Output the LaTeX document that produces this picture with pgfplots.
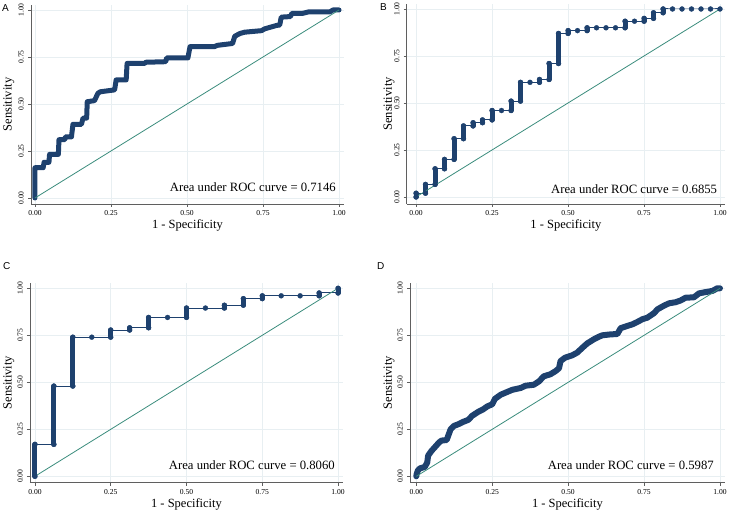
\documentclass[border=0pt]{standalone}
\usepackage{fontspec}
\setmainfont{Liberation Serif}
\newfontfamily\sansf{Liberation Sans}
\usepackage{pgfplots}
\pgfplotsset{compat=1.18}
\definecolor{rocnavy}{RGB}{30,65,110}
\definecolor{refteal}{RGB}{58,140,124}
\definecolor{gridc}{RGB}{232,239,242}
\definecolor{axc}{RGB}{95,95,95}
\tikzset{
  auc/.style={anchor=base east, inner sep=0pt, font=\fontsize{12.7}{14}\selectfont},
  letter/.style={anchor=north west, inner sep=0pt, font=\sansf\fontsize{10}{12}\selectfont},
}
\pgfplotsset{
  rocax/.style={
    scale only axis,
    anchor=south west,
    axis lines=left,
    axis line style={-, axc, line width=0.8pt},
    tick align=outside,
    major tick length=3pt,
    tick style={axc, line width=0.8pt},
    xtick={0,0.25,0.5,0.75,1},
    ytick={0,0.25,0.5,0.75,1},
    /pgf/number format/.cd, fixed, fixed zerofill, precision=2, assume math mode=true,
    /pgfplots/.cd,
    grid=major,
    major grid style={gridc, line width=0.6pt},
    ticklabel style={font=\fontsize{7.6}{8}\selectfont},
    yticklabel style={rotate=90, anchor=south, inner sep=4pt},
    xticklabel style={anchor=north, inner sep=3.5pt},
    xlabel={1 - Specificity},
    ylabel={Sensitivity},
    label style={font=\fontsize{12.5}{14}\selectfont},
    xlabel style={at={(axis description cs:0.5,0)}, anchor=base, yshift=-25pt},
    unbounded coords=jump,
    clip=false,
  },
  thin roc/.style={rocnavy, line width=1pt, mark=*, mark size=2.5pt,
    mark options={solid, fill=rocnavy, draw=rocnavy, line width=0.3pt}},
  bar roc/.style={rocnavy, line width=5pt, line cap=round},
  diag/.style={refteal, line width=0.8pt},
}
\begin{document}
\begin{tikzpicture}
\path[use as bounding box] (0,0) rectangle (729pt,513pt);

% ---------------- Panel A ----------------
\begin{axis}[rocax, at={(31pt,309pt)}, width=313pt, height=199pt,
  xmin=-0.013, xmax=1.0164, ymin=-0.0319, ymax=1.0266,
  ylabel style={at={(axis description cs:-0.0712,0.5)}, anchor=center}]
\addplot[rocnavy, line width=5pt, line join=round, line cap=round] coordinates {
(0,0) (0,0.161) (0.027,0.161) (0.03,0.19) (0.046,0.19) (0.048,0.232) (0.077,0.232)
(0.079,0.31) (0.098,0.31) (0.1,0.325) (0.12,0.325) (0.125,0.392) (0.153,0.392)
(0.158,0.425) (0.17,0.425) (0.172,0.512) (0.196,0.518) (0.207,0.557) (0.215,0.565)
(0.262,0.575) (0.267,0.628) (0.3,0.628) (0.303,0.716) (0.36,0.716) (0.365,0.722)
(0.43,0.725) (0.433,0.745) (0.503,0.745) (0.51,0.805) (0.59,0.805) (0.6,0.812)
(0.65,0.822) (0.657,0.86) (0.674,0.875) (0.69,0.882) (0.745,0.89) (0.756,0.90)
(0.795,0.918) (0.805,0.92) (0.81,0.962) (0.84,0.965) (0.845,0.982) (0.88,0.982)
(0.9,0.99) (0.97,0.99) (0.98,1) (1,1)};
\addplot[diag] coordinates {(0,0) (1,1)};
\node[auc] at (axis cs:0.99,0.032) {Area under ROC curve = 0.7146};
\end{axis}

% ---------------- Panel B ----------------
\begin{axis}[rocax, at={(406.7pt,309pt)}, width=318.3pt, height=200pt,
  xmin=-0.0306, xmax=1.0164, ymin=-0.0372, ymax=1.0266,
  ylabel style={at={(axis description cs:-0.0556,0.5)}, anchor=center}]
\addplot[thin roc] coordinates {
(0,0)(0,0.02)(0.03125,0.02)(0.03125,0.067)(0.0625,0.067)(0.0625,0.15)(0.09375,0.15)
(0.09375,0.20)(0.125,0.20)(0.125,0.31)(0.15625,0.31)(0.15625,0.378)(0.1875,0.378)
(0.1875,0.395)(0.21875,0.395)(0.21875,0.41)(0.25,0.41)(0.25,0.46)(0.28125,0.46)
(0.3125,0.46)(0.3125,0.51)(0.34375,0.51)(0.34375,0.61)(0.375,0.61)(0.40625,0.61)
(0.40625,0.625)(0.4375,0.625)(0.4375,0.71)(0.46875,0.71)(0.46875,0.87)(0.5,0.87)
(0.5,0.885)(0.53125,0.885)(0.5625,0.885)(0.5625,0.90)(0.59375,0.90)(0.625,0.90)
(0.65625,0.90)(0.6875,0.90)(0.6875,0.935)(0.71875,0.935)(0.75,0.935)(0.75,0.95)
(0.78125,0.95)(0.78125,0.98)(0.8125,0.98)(0.8125,1)(0.84375,1)(0.875,1)(0.90625,1)
(0.9375,1)(0.96875,1)(1,1)};
\addplot[bar roc] coordinates {
(0,0)(0,0.02)(0,nan)
(0.03125,0.02)(0.03125,0.067)(0.03125,nan)
(0.0625,0.067)(0.0625,0.15)(0.0625,nan)
(0.09375,0.15)(0.09375,0.2)(0.09375,nan)
(0.125,0.2)(0.125,0.31)(0.125,nan)
(0.15625,0.31)(0.15625,0.378)(0.15625,nan)
(0.1875,0.378)(0.1875,0.395)(0.1875,nan)
(0.21875,0.395)(0.21875,0.41)(0.21875,nan)
(0.25,0.41)(0.25,0.46)(0.25,nan)
(0.3125,0.46)(0.3125,0.51)(0.3125,nan)
(0.34375,0.51)(0.34375,0.61)(0.34375,nan)
(0.40625,0.61)(0.40625,0.625)(0.40625,nan)
(0.4375,0.625)(0.4375,0.71)(0.4375,nan)
(0.46875,0.71)(0.46875,0.87)(0.46875,nan)
(0.5,0.87)(0.5,0.885)(0.5,nan)
(0.5625,0.885)(0.5625,0.9)(0.5625,nan)
(0.6875,0.9)(0.6875,0.935)(0.6875,nan)
(0.75,0.935)(0.75,0.95)(0.75,nan)
(0.78125,0.95)(0.78125,0.98)(0.78125,nan)
(0.8125,0.98)(0.8125,1)};
\addplot[diag] coordinates {(0,0) (1,1)};
\node[auc] at (axis cs:0.991,0.02) {Area under ROC curve = 0.6855};
\end{axis}

% ---------------- Panel C ----------------
\begin{axis}[rocax, at={(30pt,30.3pt)}, width=313pt, height=200pt,
  xmin=-0.0165, xmax=1.0165, ymin=-0.034, ymax=1.0298,
  ylabel style={at={(axis description cs:-0.068,0.5)}, anchor=center}]
\addplot[thin roc] coordinates {
(0,0)(0,0.17)(0.0625,0.17)(0.0625,0.48)(0.125,0.48)(0.125,0.74)(0.1875,0.74)(0.25,0.74)
(0.25,0.778)(0.3125,0.778)(0.3125,0.79)(0.375,0.79)(0.375,0.845)(0.4375,0.845)(0.5,0.845)
(0.5,0.895)(0.5625,0.895)(0.625,0.895)(0.625,0.91)(0.6875,0.91)(0.6875,0.945)(0.75,0.945)
(0.75,0.96)(0.8125,0.96)(0.875,0.96)(0.9375,0.96)(0.9375,0.975)(1,0.975)(1,1)};
\addplot[bar roc] coordinates {
(0,0)(0,0.17)(0,nan)
(0.0625,0.17)(0.0625,0.48)(0.0625,nan)
(0.125,0.48)(0.125,0.74)(0.125,nan)
(0.25,0.74)(0.25,0.778)(0.25,nan)
(0.3125,0.778)(0.3125,0.79)(0.3125,nan)
(0.375,0.79)(0.375,0.845)(0.375,nan)
(0.5,0.845)(0.5,0.895)(0.5,nan)
(0.625,0.895)(0.625,0.91)(0.625,nan)
(0.6875,0.91)(0.6875,0.945)(0.6875,nan)
(0.75,0.945)(0.75,0.96)(0.75,nan)
(0.9375,0.96)(0.9375,0.975)(0.9375,nan)
(1,0.975)(1,1)};
\addplot[diag] coordinates {(0,0) (1,1)};
\node[auc] at (axis cs:0.99,0.037) {Area under ROC curve = 0.8060};
\end{axis}

% ---------------- Panel D ----------------
\begin{axis}[rocax, at={(410pt,30.3pt)}, width=315pt, height=200pt,
  xmin=-0.0207, xmax=1.0165, ymin=-0.034, ymax=1.0298,
  ylabel style={at={(axis description cs:-0.0667,0.5)}, anchor=center}]
\addplot[rocnavy, line width=6pt, line join=round, line cap=round] coordinates {
(0,0) (0.001,0.01) (0.005,0.03) (0.012,0.042) (0.028,0.05) (0.036,0.073) (0.039,0.11)
(0.05,0.135) (0.064,0.16) (0.075,0.18) (0.083,0.19) (0.1,0.193) (0.113,0.25)
(0.124,0.268) (0.14,0.278) (0.155,0.29) (0.171,0.3) (0.184,0.322) (0.204,0.343)
(0.22,0.356) (0.234,0.372) (0.25,0.383) (0.259,0.412) (0.278,0.434) (0.294,0.445)
(0.316,0.46) (0.344,0.47) (0.36,0.482) (0.387,0.487) (0.404,0.505) (0.42,0.532)
(0.442,0.543) (0.459,0.56) (0.47,0.575) (0.475,0.613) (0.49,0.631) (0.514,0.644)
(0.53,0.658) (0.547,0.684) (0.563,0.707) (0.585,0.729) (0.602,0.743) (0.613,0.75)
(0.634,0.754) (0.662,0.757) (0.673,0.788) (0.695,0.80) (0.711,0.808) (0.728,0.821)
(0.744,0.835) (0.761,0.844) (0.783,0.868) (0.794,0.888) (0.816,0.908) (0.832,0.92)
(0.854,0.926) (0.87,0.935) (0.887,0.95) (0.914,0.952) (0.931,0.973) (0.953,0.98)
(0.975,0.986) (0.991,1.0) (1,1)};
\addplot[diag] coordinates {(0,0) (1,1)};
\node[auc] at (axis cs:0.98,0.037) {Area under ROC curve = 0.5987};
\end{axis}

% panel letters
\node[letter] at (2pt,509pt) {A};
\node[letter] at (380pt,510pt) {B};
\node[letter] at (3pt,251pt) {C};
\node[letter] at (377pt,251pt) {D};
\end{tikzpicture}
\end{document}
